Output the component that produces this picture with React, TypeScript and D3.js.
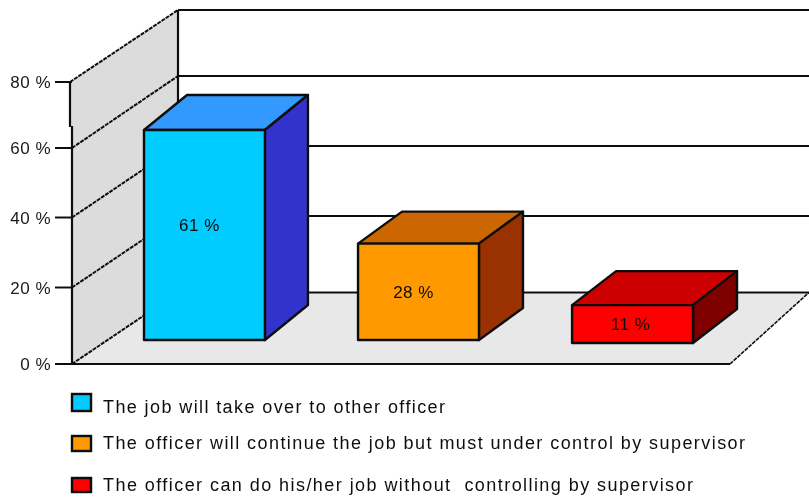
import React from "react";
import * as d3 from "d3";

const categories = [
  "The job will take over to other officer",
  "The officer will continue the job but must under control by supervisor",
  "The officer can do his/her job without  controlling by supervisor",
];
const values = [61, 28, 11];
const valueLabels = ["61 %", "28 %", "11 %"];
const frontColors = ["#00ccff", "#ff9900", "#ff0000"];
const topColors = ["#3399ff", "#cc6600", "#cc0000"];
const sideColors = ["#3333cc", "#993300", "#800000"];
const axisTicks = [0, 20, 40, 60, 80];

const W = 809, H = 497;
const ink = "#101010";
const font = "'Liberation Sans', Arial, sans-serif";

// the picture's axis ticks are not evenly spaced
const yFront = d3.scaleLinear().domain(axisTicks).range([364, 287.5, 217.5, 148, 82]);
const yBack = d3.scaleLinear().domain(axisTicks).range([292.5, 216, 146, 76, 10]);
const barX = d3.scaleBand<string>().domain(categories).range([144, 693]).paddingInner(0.435);
const barH = d3.scaleLinear().domain([0, 61]).range([0, 210]);
const barBase = [340, 340, 343];
const depth = [{ dx: 43, dy: -35 }, { dx: 44, dy: -32 }, { dx: 44, dy: -34 }];
const labelShift = [-5, -5, -2];
const legendBox = [[394, 17], [436, 15], [478, 14]];
const legendBase = [413, 449, 491];
const legendEnd = [445, 745, 693];
const poly = (p: number[][]) => d3.line()(p as [number, number][]) + "Z";

export default function App() {
  const xFront = 72, xBack = 178, xFloorEnd = 730;
  return (
    <svg width={W} height={H} viewBox={`0 0 ${W} ${H}`}
      style={{ position: "absolute", left: 0, top: 0, background: "#fff" }}>
      <defs>
        <filter id="soft" x="-2%" y="-2%" width="104%" height="104%">
          <feGaussianBlur stdDeviation="0.5" />
        </filter>
      </defs>
      <g filter="url(#soft)">
        {/* walls and floor */}
        <path d={poly([[xFront, yFront(0)], [xFront, 127], [70, 127], [70, yFront(80)], [xBack, yBack(80)], [xBack, yBack(0)]])} fill="#dcdcdc" />
        <path d={poly([[xFront, yFront(0)], [xBack, yBack(0)], [W, yBack(0)], [xFloorEnd, yFront(0)]])} fill="#e8e8e8" />
        {axisTicks.map((t) => (
          <g key={t} stroke={ink} fill="none">
            <line x1={xBack} x2={W} y1={yBack(t)} y2={yBack(t)} strokeWidth={2} />
            <line x1={t === 80 ? 70 : xFront} x2={xBack} y1={yFront(t)} y2={yBack(t)} strokeWidth={2} strokeDasharray="4 1" />
            <line x1={55} x2={xFront} y1={yFront(t)} y2={yFront(t)} strokeWidth={2} />
            <text x={51} y={yFront(t) + 6} textAnchor="end" fill="#1a1a1a" stroke="none"
              fontFamily={font} fontSize={17} letterSpacing={0.5} xmlSpace="preserve">{`${t} %`}</text>
          </g>
        ))}
        <line x1={xBack} x2={xBack} y1={yBack(80)} y2={yBack(0) - 190} stroke={ink} strokeWidth={2.2} />
        <line x1={70} x2={70} y1={yFront(80)} y2={127} stroke={ink} strokeWidth={2.2} />
        <line x1={xFront} x2={xFront} y1={126} y2={yFront(0)} stroke={ink} strokeWidth={2.2} />
        <line x1={55} x2={xFloorEnd} y1={yFront(0)} y2={yFront(0)} stroke={ink} strokeWidth={2.2} />
        <line x1={xFloorEnd} x2={W} y1={yFront(0)} y2={yBack(0)} stroke={ink} strokeWidth={1.6} strokeDasharray="4 1" />

        {/* bars */}
        {categories.map((c, i) => {
          const x0 = barX(c)!, x1 = x0 + barX.bandwidth();
          const b = barBase[i], t = b - barH(values[i]);
          const { dx, dy } = depth[i];
          return (
            <g key={c} stroke={ink} strokeWidth={2.4} strokeLinejoin="round">
              <path d={poly([[x0, t], [x0 + dx, t + dy], [x1 + dx, t + dy], [x1, t]])} fill={topColors[i]} />
              <path d={poly([[x1, t], [x1 + dx, t + dy], [x1 + dx, b + dy], [x1, b]])} fill={sideColors[i]} />
              <rect x={x0} y={t} width={x1 - x0} height={b - t} fill={frontColors[i]} />
              <text x={(x0 + x1) / 2 + labelShift[i]} y={(i === 0 ? t + 101 : (t + b) / 2 + 6)} textAnchor="middle"
                fill="#0c0c0c" stroke="none" fontFamily={font} fontSize={17} letterSpacing={0.5} xmlSpace="preserve">{valueLabels[i]}</text>
            </g>
          );
        })}

        {/* legend */}
        {categories.map((c, i) => (
          <g key={c}>
            <rect x={72} y={legendBox[i][0]} width={19} height={legendBox[i][1]} fill={frontColors[i]} stroke={ink} strokeWidth={2.4} />
            <text x={103} y={legendBase[i]} fill="#111" fontFamily={font} fontSize={18}
              textLength={legendEnd[i] - 103} lengthAdjust="spacing" xmlSpace="preserve">{c}</text>
          </g>
        ))}
      </g>
    </svg>
  );
}
